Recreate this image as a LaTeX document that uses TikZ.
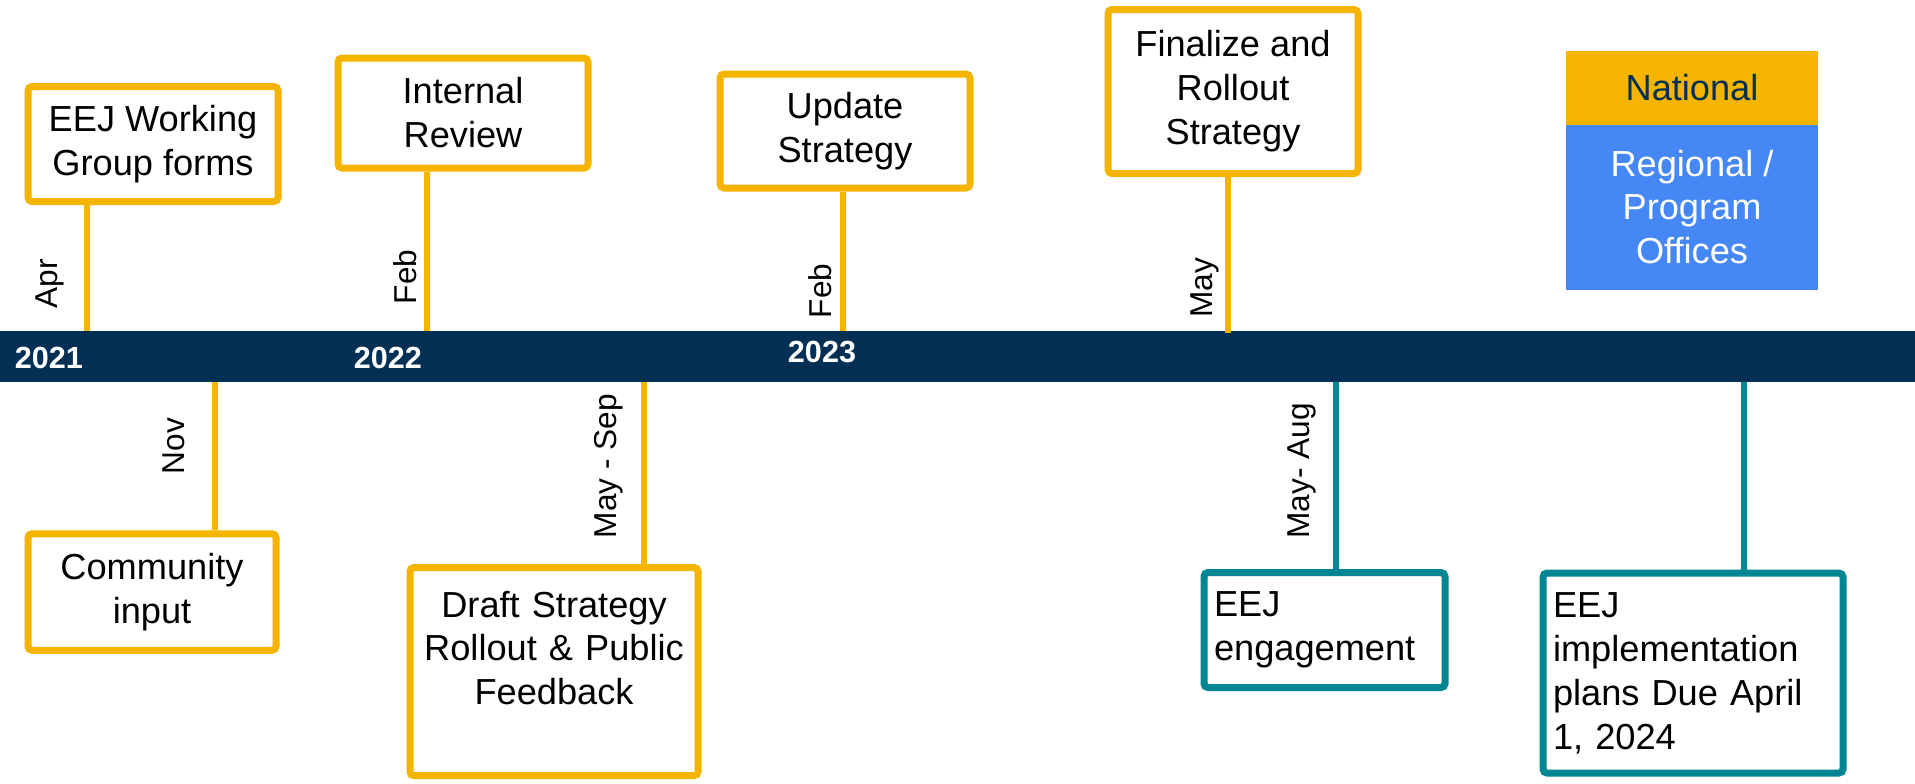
\documentclass[tikz,border=0pt]{standalone}
\usepackage{fontspec}
\setmainfont{Liberation Sans}
\usepackage{tikz}
\definecolor{tlgold}{RGB}{245,180,0}
\definecolor{tlnavy}{RGB}{2,48,85}
\definecolor{tlteal}{RGB}{0,134,147}
\definecolor{tlblue}{RGB}{69,135,244}

\begin{document}
\begin{tikzpicture}[x=0.1mm, y=-0.1mm,
		natbox/.style={draw=tlgold, line width=0.7mm, fill=white, rounded corners=0.4mm, align=center, inner sep=0pt, font=\fontsize{10.3}{12.5}\selectfont},
		regbox/.style={natbox, draw=tlteal, align=left, inner xsep=1mm},
		natstem/.style={draw=tlgold, line width=0.6mm},
		regstem/.style={natstem, draw=tlteal},
		month/.style={rotate=90, inner sep=0pt, font=\fontsize{9}{10}\selectfont},
		year/.style={text=white, inner sep=0pt, font=\bfseries\fontsize{8.7}{10}\selectfont}]
		\useasboundingbox (0,0) rectangle (1915,783);
		% Draw the time bar
		\node[fill=tlnavy, minimum width=191.5mm, minimum height=5.1mm, inner sep=0pt, outer sep=0pt] (bar) at (957.5,356.5) {};
		\node[year] (y2021) at (49,358) {2021};
		\node[year] (y2022) at (388,358) {2022};
		\node[year] (y2023) at (822,352) {2023};

		% Tick points on the bar
		\coordinate (apr) at (87,331);
		\coordinate (feba) at (427,331);
		\coordinate (febb) at (843,331);
		\coordinate (may) at (1228,333);
		\coordinate (nov) at (215,382);
		\coordinate (maysep) at (644,382);
		\coordinate (mayaug) at (1336,382);
		\coordinate (due) at (1744,382);

		% Milestones above the bar
		\node[natbox, minimum width=25mm, minimum height=11.5mm] (wg) at (153,144) {EEJ Working\\Group forms};
		\node[natbox, minimum width=25mm, minimum height=11mm] (review) at (463,113) {Internal\\Review};
		\node[natbox, minimum width=25mm, minimum height=11.4mm] (update) at (845,131) {Update\\Strategy};
		\node[natbox, minimum width=25mm, minimum height=16.4mm] (final) at (1233,91.5) {Finalize and\\Rollout\\Strategy};
		\draw[natstem] (wg.south -| apr) -- (apr);
		\draw[natstem] (review.south -| feba) -- (feba);
		\draw[natstem] (update.south -| febb) -- (febb);
		\draw[natstem] (final.south -| may) -- (may);
		\node[month] (mapr) at (50,284) {Apr};
		\node[month] (mfeba) at (405,277) {Feb};
		\node[month] (mfebb) at (820,291) {Feb};
		\node[month] (mmay) at (1205,288) {May};

		% Milestones below the bar
		\node[natbox, minimum width=24.8mm, minimum height=11.65mm] (community) at (152,592) {Community\\input};
		\node[natbox, anchor=north, minimum width=28.8mm, text width=26.8mm, text height=4.95mm, text depth=15.87mm] (draft) at (554,564) {Draft Strategy\\Rollout \& Public\\Feedback};
		\node[regbox, minimum width=24.1mm, text width=22.1mm, minimum height=11.5mm] (engage) at (1324.5,630) {EEJ\\engagement};
		\node[regbox, minimum width=30mm, text width=28mm, minimum height=20mm] (plans) at (1693,673) {EEJ\\implementation\\plans Due April\\1, 2024};
		\draw[natstem] (nov) -- (nov |- community.north);
		\draw[natstem] (maysep) -- (maysep |- draft.north);
		\draw[regstem] (mayaug) -- (mayaug |- engage.north);
		\draw[regstem] (due) -- (due |- plans.north);
		\node[month] (mnov) at (174,446) {Nov};
		\node[month] (mmaysep) at (609,466) {May - Sep};
		\node[month] (mmayaug) at (1302,471) {May- Aug};

		% Legend
		\node[fill=tlgold, text=tlnavy, minimum width=25.25mm, minimum height=7.36mm, inner sep=0pt, outer sep=0pt, font=\fontsize{10.3}{12.5}\selectfont] (national) at (1692,88) {National};
		\node[fill=tlblue, text=white, minimum width=25.25mm, minimum height=16.5mm, inner sep=0pt, outer sep=0pt, align=center, font=\fontsize{10.3}{12.5}\selectfont] (regional) at (1692,207) {Regional /\\Program\\Offices};
	\end{tikzpicture}
\end{document}
